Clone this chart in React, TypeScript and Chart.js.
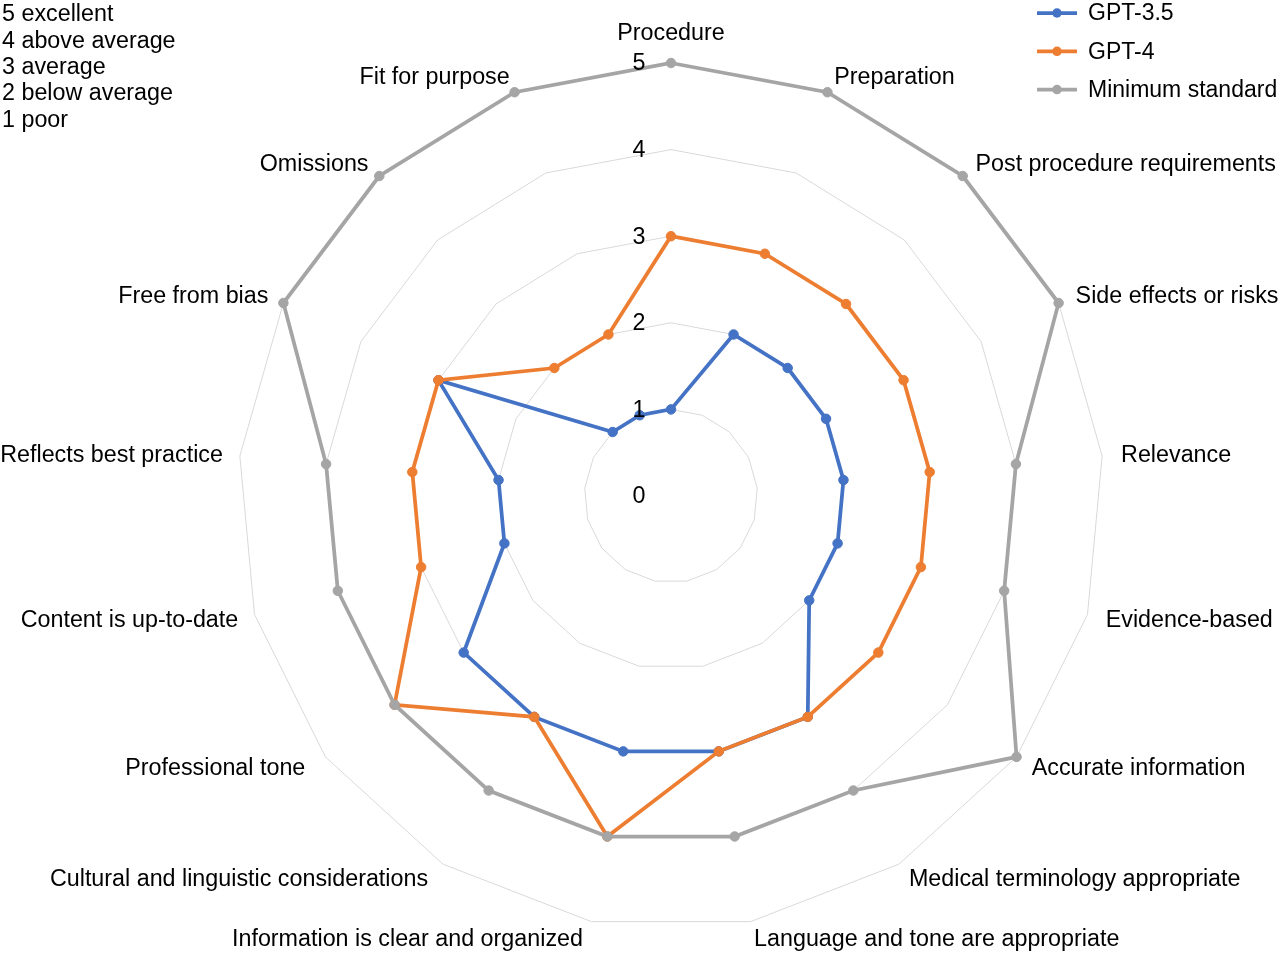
import React, { useEffect, useRef } from "react";
import { Chart, registerables } from "chart.js";

Chart.register(...registerables);

const categories = [
  "Procedure",
  "Preparation",
  "Post procedure requirements",
  "Side effects or risks",
  "Relevance",
  "Evidence-based",
  "Accurate information",
  "Medical terminology appropriate",
  "Language and tone are appropriate",
  "Information is clear and organized",
  "Cultural and linguistic considerations",
  "Professional tone",
  "Content is up-to-date",
  "Reflects best practice",
  "Free from bias",
  "Omissions",
  "Fit for purpose",
];

const gpt35 = [1, 2, 2, 2, 2, 2, 2, 3, 3, 3, 3, 3, 2, 2, 3, 1, 1];
const gpt4 = [3, 3, 3, 3, 3, 3, 3, 3, 3, 4, 3, 4, 3, 3, 3, 2, 2];
const minimumStandard = [5, 5, 5, 5, 4, 4, 5, 4, 4, 4, 4, 4, 4, 4, 5, 5, 5];

const tickValues = [0, 1, 2, 3, 4, 5];
const scaleKey = ["5 excellent", "4 above average", "3 average", "2 below average", "1 poor"];

const seriesNames = ["GPT-3.5", "GPT-4", "Minimum standard"];
const seriesColors = ["#4472C4", "#ED7D31", "#A5A5A5"];

const FONT = '23.3px "Liberation Sans", Arial, sans-serif';
const LEGEND_FONT = '23px "Liberation Sans", Arial, sans-serif';

const overlayPlugin = {
  id: "overlay",
  afterDraw(chart: any) {
    const ctx = chart.ctx;
    const scale = chart.scales.r;
    ctx.save();
    ctx.font = FONT;
    ctx.fillStyle = "#000";

    // point labels
    categories.forEach((label, i) => {
      const p = scale.getPointPosition(i, scale.drawingArea + 19);
      const deg = ((i * 360) / categories.length) % 360;
      const cosv = Math.cos((deg * Math.PI) / 180);
      const yOff = 1 + 2 * cosv;
      ctx.textBaseline = "middle";
      if (Math.round(deg) === 0 || Math.round(deg) === 180) {
        ctx.textAlign = "center";
        ctx.fillText(label, p.x, p.y - 10);
      } else if (deg < 180) {
        ctx.textAlign = "left";
        ctx.fillText(label, p.x, p.y + yOff);
      } else {
        ctx.textAlign = "right";
        const extra = deg < 240 ? 5 : -2;
        ctx.fillText(label, p.x - extra, p.y + yOff);
      }
    });

    // tick labels
    ctx.textAlign = "center";
    ctx.textBaseline = "middle";
    tickValues.forEach((v) => {
      const p = scale.getPointPositionForValue(0, v);
      ctx.fillText(String(v), scale.xCenter - 32, p.y + 1);
    });

    // scale key (top-left)
    ctx.textAlign = "left";
    scaleKey.forEach((t, i) => {
      ctx.fillText(t, 2, 15 + i * 26.3);
    });

    // legend (top-right)
    ctx.font = LEGEND_FONT;
    seriesNames.forEach((name, i) => {
      const y = 13 + i * 38.3;
      ctx.strokeStyle = seriesColors[i];
      ctx.lineWidth = 3.75;
      ctx.beginPath();
      ctx.moveTo(1037, y);
      ctx.lineTo(1077, y);
      ctx.stroke();
      ctx.fillStyle = seriesColors[i];
      ctx.beginPath();
      ctx.arc(1057, y, 4.75, 0, Math.PI * 2);
      ctx.fill();
      ctx.fillStyle = "#000";
      ctx.fillText(name, 1088, y + 1);
    });
    ctx.restore();
  },
};

export default function App() {
  const ref = useRef<HTMLCanvasElement | null>(null);
  useEffect(() => {
    if (!ref.current) return;
    const mk = (label: string, data: number[], color: string, order: number) => ({
      label,
      data,
      borderColor: color,
      backgroundColor: color,
      pointBackgroundColor: color,
      pointBorderColor: color,
      borderWidth: 3.75,
      pointRadius: 4.75,
      pointBorderWidth: 1,
      fill: false,
      order,
    });
    const chart = new Chart(ref.current, {
      type: "radar",
      data: {
        labels: categories,
        datasets: [
          mk(seriesNames[0], gpt35, seriesColors[0], 2),
          mk(seriesNames[1], gpt4, seriesColors[1], 1),
          mk(seriesNames[2], minimumStandard, seriesColors[2], 0),
        ],
      },
      options: {
        responsive: false,
        animation: false,
        layout: { padding: { left: 238, right: 176, top: 63, bottom: 25 } },
        plugins: { legend: { display: false }, tooltip: { enabled: false } },
        elements: { line: { tension: 0 } },
        scales: {
          r: {
            min: 0,
            max: 5,
            ticks: { stepSize: 1, display: false },
            grid: { color: "#D9D9D9", lineWidth: 1 },
            angleLines: { display: false },
            pointLabels: { display: false },
          },
        },
      },
      plugins: [overlayPlugin],
    });
    return () => chart.destroy();
  }, []);
  return (
    <div style={{ position: "absolute", left: 0, top: 0, width: 1280, height: 954, background: "#fff" }}>
      <canvas ref={ref} width={1280} height={954} />
    </div>
  );
}
